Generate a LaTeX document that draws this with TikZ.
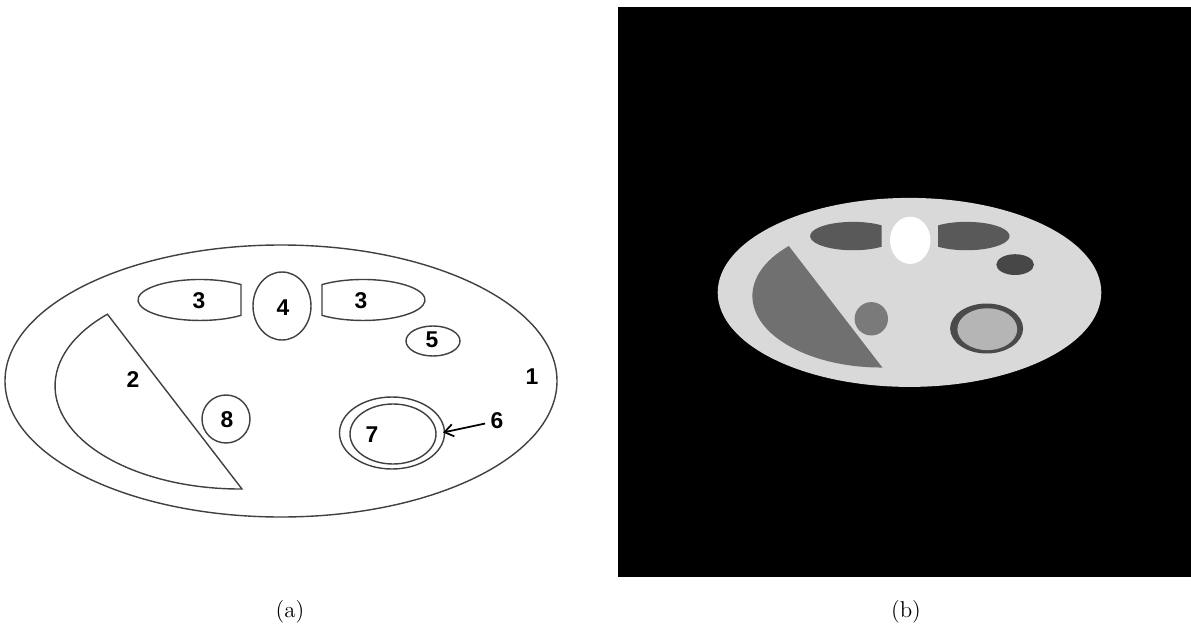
\documentclass[tikz,border=0pt]{standalone}
\usepackage{fontspec}
\usetikzlibrary{arrows.meta}
\newfontfamily\numfont{Liberation Sans}

\definecolor{tissue}{gray}{0.85}
\definecolor{lung}{gray}{0.35}
\definecolor{liver}{gray}{0.44}
\definecolor{kidney}{gray}{0.28}
\definecolor{nodule}{gray}{0.48}
\definecolor{wall}{gray}{0.29}
\definecolor{lumen}{gray}{0.71}

\begin{document}
\begin{tikzpicture}
  [x=0.02cm,y=0.02cm,
   organ/.style={draw=black!75,line width=0.8pt},
   num/.style={font=\numfont\bfseries\fontsize{13}{15}\selectfont,inner sep=3pt},
   caption/.style={font=\fontsize{13}{15}\selectfont}]
  \useasboundingbox (0,0) rectangle (1191,627);

  % (a) outline of the regions
  \draw[organ] (281,246) ellipse (276 and 136);
  \draw[organ] (107.4,312.8) arc [start angle=135.8,end angle=270.6,x radius=185,y radius=103] -- cycle;
  \draw[organ] (241,342.4) arc [start angle=48.6,end angle=311.4,x radius=62,y radius=20.5] -- cycle;
  \draw[organ] (322,342.4) arc [start angle=131.4,end angle=-131.4,x radius=62,y radius=20.5] -- cycle;
  \draw[organ] (282,321) ellipse (29 and 34);
  \draw[organ] (433,286) ellipse (27 and 15);
  \draw[organ] (226,208) circle (24);
  \draw[organ] (392,194) ellipse (52.5 and 36);
  \draw[organ] (393,193) ellipse (43 and 30);

  \node[num] (n1)  at (532,250) {1};
  \node[num] (n2)  at (133,247) {2};
  \node[num] (n3l) at (199,326) {3};
  \node[num] (n3r) at (361,326) {3};
  \node[num] (n4)  at (283,319) {4};
  \node[num] (n5)  at (432,287) {5};
  \node[num] (n6)  at (497,206) {6};
  \node[num] (n7)  at (372,192) {7};
  \node[num] (n8)  at (227,207) {8};

  \coordinate (ring6) at (443,194.5);
  \draw[-{Straight Barb[length=5pt,width=7pt]},line width=1pt] (n6) -- (ring6);

  % (b) the grey-level image
  \fill[black] (618,50) rectangle (1191,620);
  \fill[tissue] (909.5,334.6) ellipse (191.8 and 94.5);
  \fill[liver] (788.8,381.0) arc [start angle=135.8,end angle=270.6,x radius=128.6,y radius=71.6] -- cycle;
  \fill[lung] (881.7,401.6) arc [start angle=48.6,end angle=311.4,x radius=43.1,y radius=14.2] -- cycle;
  \fill[lung] (938.0,401.6) arc [start angle=131.4,end angle=-131.4,x radius=43.1,y radius=14.2] -- cycle;
  \fill[white] (910.2,386.7) ellipse (20.2 and 23.6);
  \fill[kidney] (1015.1,362.4) ellipse (18.8 and 10.4);
  \fill[nodule] (871.3,308.2) circle (16.7);
  \fill[wall] (986.6,298.5) ellipse (36.5 and 25);
  \fill[lumen] (987.3,297.8) ellipse (29.9 and 20.9);

  \node[caption] (capa) at (290,15) {(a)};
  \node[caption] (capb) at (906,15) {(b)};
\end{tikzpicture}
\end{document}
